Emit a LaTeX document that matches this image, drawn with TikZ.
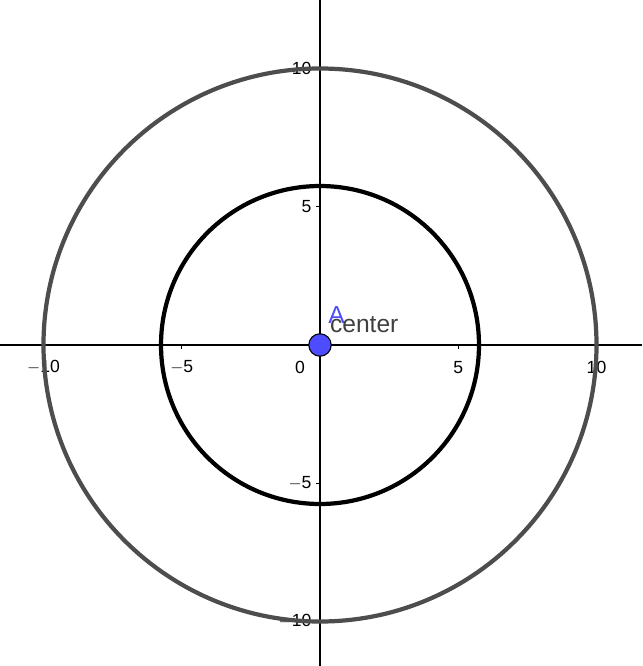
\documentclass[tikz,border=0pt]{standalone}
\usepackage{fontspec}
\setmainfont{Liberation Sans}
\usepackage{tikz}
\usetikzlibrary{positioning, calc}
\definecolor{ggbBlue}{HTML}{4D4DFF}
\definecolor{ggbGray}{HTML}{4D4D4D}
\definecolor{ggbText}{HTML}{404040}
\tikzset{
  axisline/.style={line width=0.9pt, black},
  tickmark/.style={line width=0.7pt, black},
  ticklabel/.style={font=\fontsize{12.5}{14}\selectfont, inner sep=1pt},
  ringout/.style={line width=3pt, ggbGray},
  ringin/.style={line width=3pt, black},
  pointA/.style={circle, fill=ggbBlue, draw=black, line width=0.8pt,
    minimum size=0.56cm, inner sep=0pt},
}
\begin{document}
\begin{tikzpicture}[x=0.69125cm, y=0.69125cm]
    \useasboundingbox (-11.573,-11.609) rectangle (11.646,12.477);
    % axes
    \draw[axisline] (-11.573,0) -- (11.646,0);
    \draw[axisline] (0,-11.609) -- (0,12.477);
    % ticks and numbers
    \foreach \v in {-10,-5,5,10} {
      \draw[tickmark] (\v,0) -- (\v,-0.15);
      \draw[tickmark] (0,\v) -- (-0.15,\v);
      \node[ticklabel] (xl\v) at (\v,-0.8) {\ifnum\v<0 $-$\fi\the\numexpr\ifnum\v<0 -\fi\v\relax};
      \node[ticklabel, anchor=east] (yl\v) at (-0.25,\v) {\ifnum\v<0 $-$\fi\the\numexpr\ifnum\v<0 -\fi\v\relax};
    }
    \node[ticklabel] (zero) at (-0.72,-0.8) {0};
    % circles
    \draw[ringout] (0,0) circle (10);
    \draw[ringin] (0,0) circle (5.75);
    % the point
    \node[pointA] (A) at (0,0) {};
    \node[text=ggbBlue, font=\fontsize{17.5}{19}\selectfont, inner sep=0pt]
      (Alabel) at (0.6,1.08) {A};
    \node[text=ggbText, font=\fontsize{17.5}{19}\selectfont, inner sep=0pt]
      (center) at (1.6,0.74) {center};
\end{tikzpicture}
\end{document}
